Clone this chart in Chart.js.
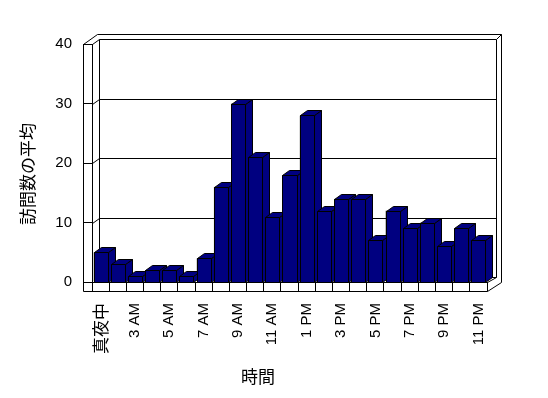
<!DOCTYPE html>
<html>
<head>
<meta charset="utf-8">
<script src="https://cdn.jsdelivr.net/npm/chart.js@4/dist/chart.umd.min.js"></script>
<style>
  body { margin: 0; background: #ffffff; }
</style>
</head>
<body>
<canvas id="chartVisits" width="548" height="398"></canvas>
<script>
const hours = ['真夜中', '2 AM', '3 AM', '4 AM', '5 AM', '6 AM', '7 AM', '8 AM', '9 AM', '10 AM', '11 AM', '12 PM',
    '1 PM', '2 PM', '3 PM', '4 PM', '5 PM', '6 PM', '7 PM', '8 PM', '9 PM', '10 PM', '11 PM'];
const avgVisits = [5, 3, 1, 2, 2, 1, 4, 16, 30, 21, 11, 18, 28, 12, 14, 14, 7, 12, 9, 10, 6, 9, 7];
const yTicks = [0, 10, 20, 30, 40];
const xTitle = '時間';
const yTitle = '訪問数の平均';

const FONT = "'Liberation Sans', 'Noto Sans CJK JP', sans-serif";
const CJK = "'Noto Sans CJK JP', sans-serif";
const DX = 7, DY = -5;   // depth of the 3D look

function line(ctx, x1, y1, x2, y2) {
    ctx.beginPath();
    ctx.moveTo(Math.round(x1) + 0.5, Math.round(y1) + 0.5);
    ctx.lineTo(Math.round(x2) + 0.5, Math.round(y2) + 0.5);
    ctx.stroke();
}

// walls, floor, gridlines on the back wall, 3D bars, axis titles
const framePlugin = {
    id: 'frame3d',
    beforeDatasetsDraw(chart) {
        const ctx = chart.ctx;
        const { left: L, right: R, top: T, bottom: B } = chart.chartArea;
        const y = chart.scales.y;
        ctx.save();
        ctx.strokeStyle = '#000';
        ctx.lineWidth = 1;
        // left wall
        line(ctx, L - 9, T, L - 9, B + 9);
        line(ctx, L - 9, T, L, T);
        line(ctx, L - 9, T, L + 5, T - 10);
        line(ctx, L, T, L + DX, T + DY);
        // back wall
        line(ctx, L + DX, T + DY, R + 9, T + DY);
        line(ctx, L + 5, T - 10, R + 14, T - 10);
        line(ctx, R + 14, T - 10, R + 9, T + DY);
        line(ctx, R + 9, T + DY, R + 9, B + DY);
        line(ctx, R + 14, T - 10, R + 14, B);
        line(ctx, L + DX, T + DY, L + DX, B + DY);
        // floor
        line(ctx, L - 9, B + 9, R, B + 9);
        line(ctx, R, B, R, B + 9);
        line(ctx, R, B + 9, R + 14, B);
        line(ctx, R, B, R + 9, B + DY);
        line(ctx, L + DX, B + DY, R + 9, B + DY);
        // gridlines
        yTicks.forEach(v => {
            if (v === 0 || v === 40) return;
            const py = y.getPixelForValue(v);
            line(ctx, L, py, L + DX, py + DY);
            line(ctx, L + DX, py + DY, R + 9, py + DY);
        });
        ctx.restore();
    },
    afterDatasetsDraw(chart) {
        const ctx = chart.ctx;
        const bars = chart.getDatasetMeta(0).data;
        ctx.save();
        ctx.strokeStyle = '#000';
        ctx.fillStyle = '#000080';
        ctx.lineWidth = 1;
        bars.forEach(bar => {
            const { x, y, base, width } = bar.getProps(['x', 'y', 'base', 'width'], true);
            const l = Math.round(x - width / 2) + 0.5, r = Math.round(x + width / 2) + 0.5;
            const t = Math.round(y) + 0.5, b = Math.round(base) + 0.5;
            // side
            ctx.beginPath();
            ctx.moveTo(r, t); ctx.lineTo(r + DX, t + DY); ctx.lineTo(r + DX, b + DY); ctx.lineTo(r, b);
            ctx.closePath(); ctx.fill(); ctx.stroke();
            // top
            ctx.beginPath();
            ctx.moveTo(l, t); ctx.lineTo(l + DX, t + DY); ctx.lineTo(r + DX, t + DY); ctx.lineTo(r, t);
            ctx.closePath(); ctx.fill(); ctx.stroke();
            // front
            ctx.beginPath();
            ctx.rect(l, t, r - l, b - t);
            ctx.fill(); ctx.stroke();
        });
        ctx.restore();
    },
    afterDraw(chart) {
        const ctx = chart.ctx;
        ctx.save();
        ctx.fillStyle = '#000';
        ctx.font = '17px ' + CJK;
        ctx.textAlign = 'center';
        ctx.textBaseline = 'middle';
        ctx.fillText(xTitle, 258, 377);
        ctx.translate(28, 174);
        ctx.rotate(-Math.PI / 2);
        ctx.fillText(yTitle, 0, 0);
        ctx.restore();
    }
};

const ctxVisits = document.getElementById('chartVisits').getContext('2d');
const chart = new Chart(ctxVisits, {
    type: 'bar',
    data: {
        labels: hours,
        datasets: [{
            label: yTitle,
            data: avgVisits,
            backgroundColor: '#000080',
            borderColor: '#000000',
            borderWidth: 1,
            barPercentage: 0.82,
            categoryPercentage: 1.0
        }]
    },
    options: {
        responsive: false,
        animation: false,
        devicePixelRatio: 1,
        layout: { padding: { top: 44, right: 61, left: 0, bottom: 0 } },
        plugins: {
            legend: { display: false },
            tooltip: { enabled: false }
        },
        scales: {
            x: {
                offset: true,
                afterFit(scale) { scale.height = 116; },
                grid: { offset: true, drawOnChartArea: false, tickLength: 9, color: '#000' },
                border: { display: true, color: '#000' },
                ticks: {
                    autoSkip: false,
                    maxRotation: 90,
                    minRotation: 90,
                    padding: 12,
                    color: '#000',
                    font: c => c.index === 0 ? { family: CJK, size: 17 } : { family: FONT, size: 15 },
                    callback: (v, i) => i % 2 === 0 ? hours[i] : ''
                }
            },
            y: {
                min: 0,
                max: 40,
                afterFit(scale) { scale.width = 92; },
                afterBuildTicks(scale) { scale.ticks = yTicks.map(v => ({ value: v })); },
                grid: { drawOnChartArea: false, tickLength: 9, color: '#000' },
                border: { display: true, color: '#000' },
                ticks: {
                    padding: 11,
                    color: '#000',
                    font: { family: FONT, size: 15 }
                }
            }
        }
    },
    plugins: [framePlugin]
});
</script>
</body>
</html>
